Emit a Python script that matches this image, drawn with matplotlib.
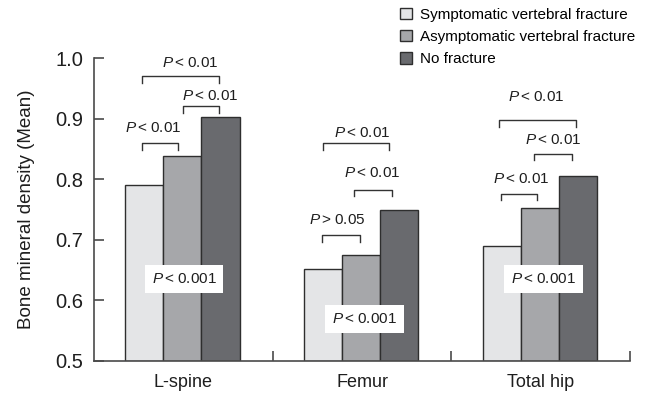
import numpy as np
import matplotlib.pyplot as plt
from matplotlib import font_manager

# bone mineral density means per site and group
sites = ["L-spine", "Femur", "Total hip"]
groups = ["Symptomatic vertebral fracture", "Asymptomatic vertebral fracture", "No fracture"]
symptomatic = [0.790, 0.652, 0.689]
asymptomatic = [0.839, 0.675, 0.752]
no_fracture = [0.902, 0.750, 0.806]

# pairwise comparison labels: (site index, left bar, right bar, label)
pairs = [
    (0, 0, 1, "< 0.01"), (0, 1, 2, "< 0.01"), (0, 0, 2, "< 0.01"),
    (1, 0, 1, "> 0.05"), (1, 1, 2, "< 0.01"), (1, 0, 2, "< 0.01"),
    (2, 0, 1, "< 0.01"), (2, 1, 2, "< 0.01"), (2, 0, 2, "< 0.01"),
]
overall = ["< 0.001", "< 0.001", "< 0.001"]

# bracket layout: x ends, bracket height, label x and y
bracket_layout = [
    (-0.233, -0.028, 0.860, -0.169, 0.884),
    (-0.003, 0.202, 0.920, 0.150, 0.937),
    (-0.233, 0.202, 0.970, 0.038, 0.992),
    (0.777, 0.990, 0.708, 0.864, 0.733),
    (0.955, 1.166, 0.783, 1.057, 0.810),
    (0.779, 1.151, 0.859, 1.001, 0.876),
    (1.778, 1.982, 0.776, 1.889, 0.800),
    (1.965, 2.174, 0.842, 2.071, 0.865),
    (1.765, 2.200, 0.897, 1.976, 0.936),
]
overall_pos = [(0.004, 0.635), (1.013, 0.569), (2.017, 0.635)]

names = {f.name for f in font_manager.fontManager.ttflist}
base = "Liberation Sans Narrow" if "Liberation Sans Narrow" in names else "Liberation Sans"
plt.rcParams["font.family"] = [base, "DejaVu Sans"]
plt.rcParams["mathtext.fontset"] = "custom"
plt.rcParams["mathtext.it"] = base + ":italic"
plt.rcParams["mathtext.rm"] = base

colors = ["#e4e5e7", "#a6a7aa", "#696a6e"]
axis_col = "#4a4a4a"
txt_col = "#1e1e1e"

fig = plt.figure(figsize=(6.5, 3.94), dpi=100)
ax = fig.add_axes([94 / 650, 33 / 394, 536 / 650, 303 / 394])

x = np.arange(len(sites))
w = 0.213
handles = []
for i, vals in enumerate([symptomatic, asymptomatic, no_fracture]):
    b = ax.bar(x + (i - 1) * w - 0.005, np.array(vals) - 0.5, w, bottom=0.5,
               color=colors[i], edgecolor="#2e2e2e", linewidth=1.0, label=groups[i])
    handles.append(b)

ax.set_xlim(-0.5, 2.5)
ax.set_ylim(0.5, 1.0)
ax.set_yticks([0.5, 0.6, 0.7, 0.8, 0.9, 1.0])
ax.set_yticklabels(["0.5", "0.6", "0.7", "0.8", "0.9", "1.0"])
ax.set_xticks([0.5, 1.5, 2.5])
ax.set_xticklabels([])
for xi, s in zip(x, sites):
    ax.text(xi, 0.5 - 0.035, s, ha="center", va="center", fontsize=13,
            color=txt_col)

for side in ["top", "right"]:
    ax.spines[side].set_visible(False)
for side in ["left", "bottom"]:
    ax.spines[side].set_color(axis_col)
    ax.spines[side].set_linewidth(1.2)
ax.tick_params(axis="both", direction="in", length=7, width=1.2, color=axis_col,
               labelsize=14.5, labelcolor=txt_col, pad=8)
ax.set_ylabel("Bone mineral density (Mean)", fontsize=13.5, color=txt_col, labelpad=14)

leg = 0.011
for (site, a, b, lab), (x0, x1, yb, tx, ty) in zip(pairs, bracket_layout):
    ax.plot([x0, x0, x1, x1], [yb - leg, yb, yb, yb - leg], color="#333333",
            linewidth=1.0, clip_on=False)
    ax.text(tx, ty, "$P\\,$" + lab, ha="center", va="center", fontsize=11,
            color=txt_col, clip_on=False)

for lab, (tx, ty) in zip(overall, overall_pos):
    ax.text(tx, ty, "$P\\,$" + lab, ha="center", va="center", fontsize=11,
            color=txt_col,
            bbox=dict(facecolor="white", edgecolor="none", pad=5))

fig.legend(handles=handles, loc="upper left", bbox_to_anchor=(389 / 650, 1.01),
           frameon=False, fontsize=11, handlelength=0.75, handleheight=0.75,
           handletextpad=0.55, labelspacing=0.55, borderpad=0.25)

fig.savefig("out.png", dpi=100)
